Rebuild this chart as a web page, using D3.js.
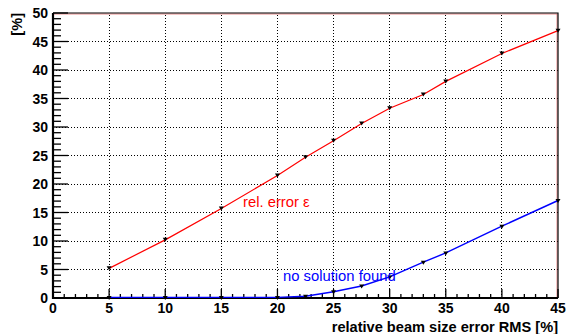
<!DOCTYPE html>
<html>
<head>
<meta charset="utf-8">
<script src="https://cdn.jsdelivr.net/npm/d3@7"></script>
<style>
  body { margin: 0; background: #fff; }
  svg { display: block; font-family: "Liberation Sans", Arial, Helvetica, sans-serif; }
  .tick-label { font-size: 14px; font-weight: bold; fill: #000; }
  .axis-title { font-size: 14.6px; font-weight: bold; fill: #000; }
  .series-label { font-size: 14.8px; }
</style>
</head>
<body>
<div class="chart"></div>
<script>
// values
var beamError = [5, 10, 15, 20, 22.5, 25, 27.5, 30, 33, 35, 40, 45];
var relError = [5.2, 10.2, 15.7, 21.5, 24.7, 27.6, 30.6, 33.3, 35.7, 38.0, 42.9, 46.9];
var noSolution = [0, 0, 0, 0, 0.2, 1.0, 2.0, 3.6, 6.2, 7.8, 12.5, 17.0];
var xTicks = [0, 5, 10, 15, 20, 25, 30, 35, 40, 45];
var yTicks = [0, 5, 10, 15, 20, 25, 30, 35, 40, 45, 50];

var svgWidth = 566, svgHeight = 334;
var margin = {top: 13, right: 8, bottom: 36, left: 53};

var svg = d3.select(".chart").append("svg")
    .attr("width", svgWidth)
    .attr("height", svgHeight);

var xScale = d3.scaleLinear().domain([0, 45]).range([margin.left, svgWidth - margin.right]);
var yScale = d3.scaleLinear().domain([0, 50]).range([svgHeight - margin.bottom, margin.top]);

var x0 = xScale(0), x1 = xScale(45), y0 = yScale(0), y1 = yScale(50);

// dotted grid
svg.selectAll(".gridx")
    .data(xTicks.filter(d => d > 0 && d < 45))
    .enter().append("line")
    .attr("x1", d => xScale(d)).attr("x2", d => xScale(d))
    .attr("y1", y0).attr("y2", y1)
    .attr("stroke", "#000").attr("stroke-width", 1)
    .attr("stroke-dasharray", "1,2")
    .attr("shape-rendering", "crispEdges");

svg.selectAll(".gridy")
    .data(yTicks.filter(d => d > 0 && d < 50))
    .enter().append("line")
    .attr("x1", x0).attr("x2", x1)
    .attr("y1", d => yScale(d)).attr("y2", d => yScale(d))
    .attr("stroke", "#000").attr("stroke-width", 1)
    .attr("stroke-dasharray", "1,2")
    .attr("shape-rendering", "crispEdges");

// frame top/right (black with a faint red inner edge)
svg.append("path")
    .attr("d", "M" + x0 + "," + (y1 + 1) + "H" + (x1 - 1) + "V" + y0)
    .attr("fill", "none").attr("stroke", "#e04040").attr("stroke-width", 1)
    .attr("stroke-opacity", 0.6);
svg.append("path")
    .attr("d", "M" + x0 + "," + y1 + "H" + x1 + "V" + y0)
    .attr("fill", "none").attr("stroke", "#000").attr("stroke-width", 1.2);

// minor / major ticks inside the frame
var yMinor = d3.range(0, 51, 1);
svg.selectAll(".ytick")
    .data(yMinor)
    .enter().append("line")
    .attr("x1", x0)
    .attr("x2", d => x0 + (d % 5 == 0 ? 15 : 8))
    .attr("y1", d => yScale(d)).attr("y2", d => yScale(d))
    .attr("stroke", "#000").attr("stroke-width", 1.3);

var xMinor = d3.range(0, 46, 1);
svg.selectAll(".xtick")
    .data(xMinor)
    .enter().append("line")
    .attr("x1", d => xScale(d)).attr("x2", d => xScale(d))
    .attr("y1", y0)
    .attr("y2", d => y0 - (d % 5 == 0 ? 9 : 4))
    .attr("stroke", "#000").attr("stroke-width", 1.3);

// axis lines (thick)
svg.append("line")
    .attr("x1", x0).attr("x2", x0).attr("y1", y0 + 1).attr("y2", y1)
    .attr("stroke", "#000").attr("stroke-width", 2.2);
svg.append("line")
    .attr("x1", x0 - 1).attr("x2", x1).attr("y1", y0).attr("y2", y0)
    .attr("stroke", "#000").attr("stroke-width", 2.2);

// series lines
var line = d3.line()
    .x((d, i) => xScale(beamError[i]))
    .y(d => yScale(d));

svg.append("path")
    .datum(noSolution)
    .attr("d", line)
    .attr("fill", "none")
    .attr("stroke", "#0000ff")
    .attr("stroke-width", 1.4)
    .attr("transform", "translate(0,-0.6)");

svg.append("path")
    .datum(relError)
    .attr("d", line)
    .attr("fill", "none")
    .attr("stroke", "#ff0000")
    .attr("stroke-width", 1.2);

// markers (small down triangles)
var tri = d => "M-2.5,-2L2.5,-2L0,2Z";
[relError, noSolution].forEach(function(series) {
    svg.selectAll(null)
        .data(series)
        .enter().append("path")
        .attr("d", tri)
        .attr("transform", (d, i) => "translate(" + xScale(beamError[i]) + "," + yScale(d) + ")")
        .attr("fill", "#000");
});

// tick labels
svg.selectAll(".ylab")
    .data(yTicks)
    .enter().append("text")
    .attr("class", "tick-label")
    .attr("x", x0 - 5)
    .attr("y", d => yScale(d) + 5)
    .attr("text-anchor", "end")
    .text(d => d);

svg.selectAll(".xlab")
    .data(xTicks)
    .enter().append("text")
    .attr("class", "tick-label")
    .attr("x", d => xScale(d))
    .attr("y", y0 + 15)
    .attr("text-anchor", "middle")
    .text(d => d);

// axis titles
svg.append("text")
    .attr("class", "axis-title")
    .attr("x", x1)
    .attr("y", 332)
    .attr("text-anchor", "end")
    .text("relative beam size error RMS [%]");

svg.append("text")
    .attr("class", "axis-title")
    .attr("transform", "translate(22," + y1 + ") rotate(-90)")
    .attr("text-anchor", "end")
    .text("[%]");

// series labels
svg.append("text")
    .attr("class", "series-label")
    .attr("x", 243).attr("y", 207)
    .attr("fill", "#ff0000")
    .text("rel. error ε");

svg.append("text")
    .attr("class", "series-label")
    .attr("x", 283).attr("y", 281)
    .attr("fill", "#0000ff")
    .text("no solution found");
</script>
</body>
</html>
